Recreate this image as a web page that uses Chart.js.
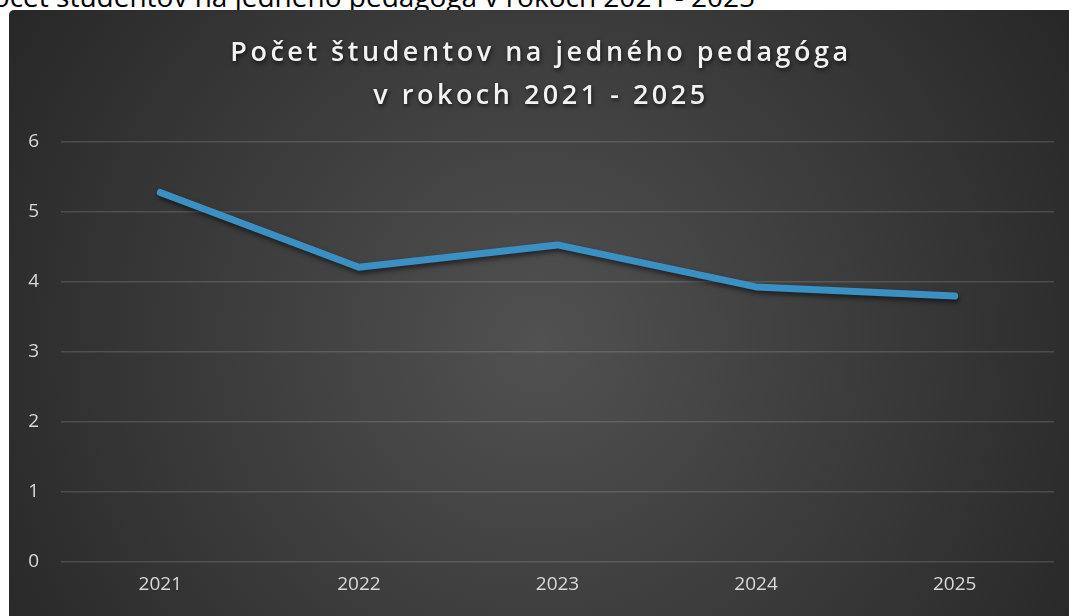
<!DOCTYPE html>
<html>
<head>
<meta charset="utf-8">
<script src="https://cdn.jsdelivr.net/npm/chart.js@4/dist/chart.umd.min.js"></script>
<style>
  html, body { margin: 0; padding: 0; background: #ffffff; width: 1069px; height: 616px; overflow: hidden; }
  #topText { position: absolute; right: 314px; top: -19px; white-space: nowrap; font-family: "Open Sans", sans-serif; font-size: 28px; color: #000; line-height: 30px; z-index: 0; }
  #wrap { position: absolute; left: 9px; top: 10px; width: 1060px; height: 606px; z-index: 1; }
</style>
</head>
<body>
<div id="topText">Počet študentov na jedného pedagóga v rokoch 2021 - 2025</div>
<div id="wrap"><canvas id="c"></canvas></div>
<script>
const titleLines = ["Počet študentov na jedného pedagóga", "v rokoch 2021 - 2025"];
const years = ["2021", "2022", "2023", "2024", "2025"];
const studentsPerTeacher = [5.28, 4.21, 4.53, 3.93, 3.80];
const yTicks = [0, 1, 2, 3, 4, 5, 6];

const bgPlugin = {
  id: 'bg',
  beforeDraw(chart) {
    const ctx = chart.ctx, w = chart.width, h = chart.height;
    ctx.save();
    const g = ctx.createRadialGradient(w * 0.5, h * 0.55, 0, w * 0.5, h * 0.55, w * 0.62);
    g.addColorStop(0, '#515151');
    g.addColorStop(1, '#252525');
    ctx.fillStyle = g;
    ctx.beginPath();
    ctx.roundRect(0, 0, w, h, [5, 0, 0, 0]);
    ctx.fill();
    ctx.restore();
  },
  afterDraw(chart) {
    const ctx = chart.ctx, w = chart.width;
    ctx.save();
    ctx.font = '600 27px "Open Sans"';
    ctx.letterSpacing = '3.5px';
    ctx.textAlign = 'center';
    ctx.textBaseline = 'alphabetic';
    ctx.fillStyle = '#f2f2f2';
    ctx.shadowColor = 'rgba(0,0,0,0.7)';
    ctx.shadowBlur = 4;
    ctx.shadowOffsetX = 1;
    ctx.shadowOffsetY = 2;
    ctx.fillText(titleLines[0], w / 2 + 2, 51);
    ctx.fillText(titleLines[1], w / 2 + 2, 94);
    ctx.restore();
  },
  beforeDatasetDraw(chart) {
    const ctx = chart.ctx;
    ctx.save();
    ctx.shadowColor = 'rgba(0,0,0,0.55)';
    ctx.shadowBlur = 5;
    ctx.shadowOffsetX = 1;
    ctx.shadowOffsetY = 3;
  },
  afterDatasetDraw(chart) {
    chart.ctx.restore();
  }
};

new Chart(document.getElementById('c'), {
  type: 'line',
  data: {
    labels: years,
    datasets: [{
      data: studentsPerTeacher,
      borderColor: '#3a8fc3',
      borderWidth: 7,
      borderCapStyle: 'round',
      borderJoinStyle: 'round',
      pointRadius: 0,
      tension: 0,
      fill: false
    }]
  },
  options: {
    responsive: true,
    maintainAspectRatio: false,
    animation: false,
    layout: { padding: { top: 132, right: 15, left: 0, bottom: 0 } },
    plugins: { legend: { display: false }, title: { display: false }, tooltip: { enabled: false } },
    scales: {
      x: {
        offset: true,
        grid: { display: false, drawTicks: false },
        border: { display: false },
        ticks: { color: '#d9d9d9', font: { family: '"Open Sans"', size: 19 }, padding: 11 },
        afterFit(s) { s.height = 54; }
      },
      y: {
        min: 0, max: 6,
        afterBuildTicks(s) { s.ticks = yTicks.map(v => ({ value: v })); },
        grid: { color: 'rgba(217,217,217,0.17)', lineWidth: 1.5, drawTicks: false },
        border: { display: false },
        ticks: { color: '#d9d9d9', font: { family: '"Open Sans"', size: 19 }, padding: 22 },
        afterFit(s) { s.width = 52; }
      }
    }
  },
  plugins: [bgPlugin]
});
</script>
</body>
</html>
